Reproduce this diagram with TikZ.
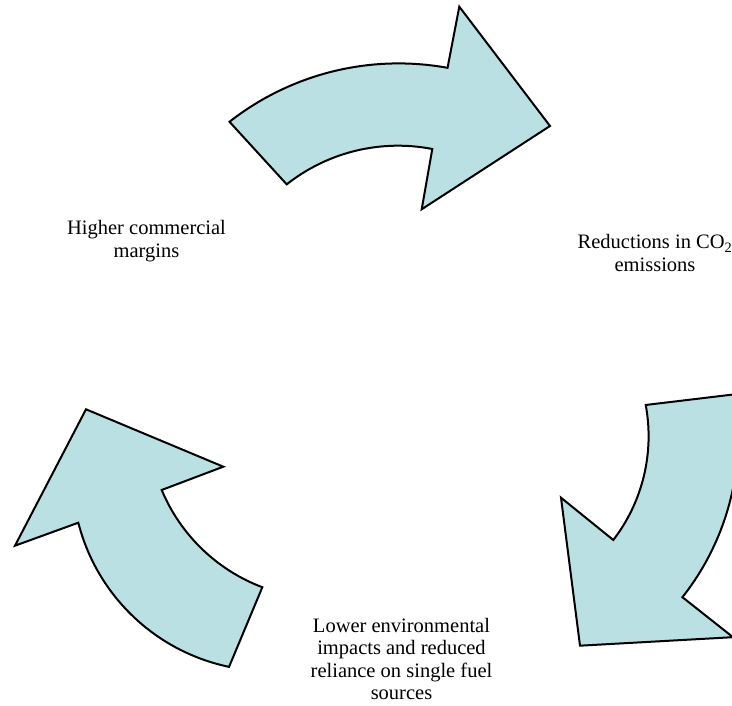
\documentclass[tikz,border=0pt]{standalone}
\usepackage{fontspec}
\setmainfont{Liberation Serif}
\definecolor{arrowfill}{RGB}{187,224,227}
\tikzstyle{cycarrow} = [fill=arrowfill, draw=black, line width=2pt, line join=miter]
\tikzstyle{stage} = [align=center, inner sep=0pt, anchor=north, font=\fontsize{20.5}{22.5}\selectfont]

\begin{document}
\begin{tikzpicture}[x=1pt, y=1pt]
	\clip (0,0) rectangle (732,706);

	% top arrow, margins -> emissions
	\draw [cycarrow] (229.5,584.2) arc[start angle=128.1, end angle=79.7, radius=274pt]
		-- (459.3,699.3) -- (550,580) -- (421.7,496.7) -- (432.3,557)
		arc[start angle=79.0, end angle=128.3, radius=179.6pt] -- cycle;

	% right arrow, emissions -> impacts
	\draw [cycarrow] (734.9,311.7) arc[start angle=9.27, end angle=-38.27, radius=260pt]
		-- (733,68.8) -- (580,60.3) -- (561,208.3) -- (613.3,166)
		arc[start angle=-37.56, end angle=10.56, radius=170.3pt] -- cycle;

	% left arrow, impacts -> margins
	\draw [cycarrow] (229.05,39.14) arc[start angle=258.23, end angle=194.34, radius=197.1pt]
		-- (15,160.3) -- (86,296.7) -- (223.3,239.3) -- (161.7,216)
		arc[start angle=202.68, end angle=249.28, radius=176.9pt] -- cycle;

	\node (margins) at (146.5,485.5) [stage] {Higher commercial\\margins};
	\node (emissions) at (655,471.5) [stage] {Reductions in CO\textsubscript{2}\\emissions};
	\node (impacts) at (401.5,88) [stage] {Lower environmental\\impacts and reduced\\reliance on single fuel\\sources};
\end{tikzpicture}
\end{document}
